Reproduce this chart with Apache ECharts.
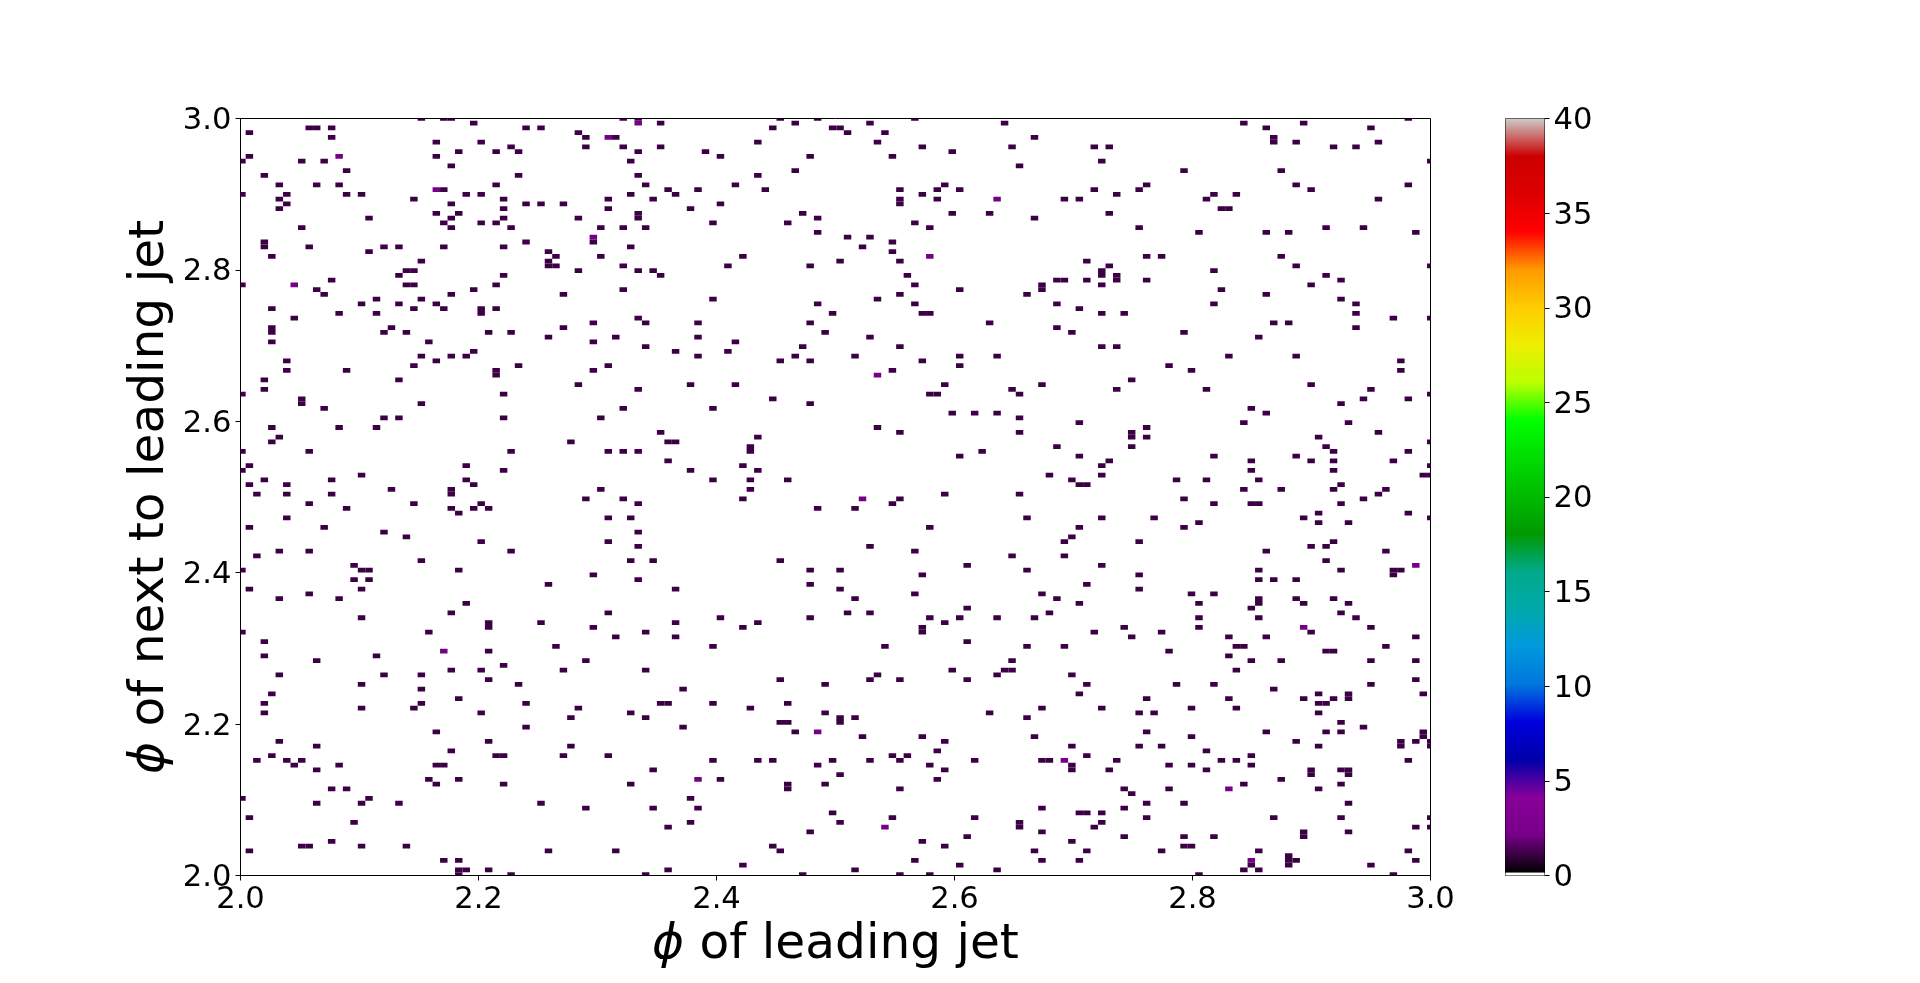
<!DOCTYPE html>
<html>
<head>
<meta charset="utf-8">
<title>phi of leading jet vs next to leading jet</title>
<script src="https://cdn.jsdelivr.net/npm/echarts@6/dist/echarts.min.js"></script>
<style>
  html, body { margin: 0; padding: 0; background: #fff; }
  #chart { width: 1920px; height: 983px; }
</style>
</head>
<body>
<div id="chart"></div>
<script>
// histogram bins are 2*pi/1000 wide, numbered from -pi
const binWidth = 2 * Math.PI / 1000
const firstLeadBin = 818
const topNextBin = 977

// one line per row of the histogram, top row first: filled columns, counted from firstLeadBin
const filledCols = [
  [24,27,28,51,53,72,77,90,156],
  [31,53,56,74,84,102,134,142],
  [9,10,12,38,40,71,79,80,137,151],
  [1,45,81,86],
  [12,46,49,50,106,138],
  [26,32,69,85,138,141,152],
  [36,46,51,56,91,103,114,116,146,149],
  [29,34,37,53,62,95],
  [1,13,26,64,76,87],
  [0,8,11,52,115,159],
  [28,104],
  [14,74,126,139],
  [3,37,53,69],
  [],
  [5,10,13,34,54,66,94,121,141,156],
  [26,27,57,61,70,88,93,96,114,120,143],
  [0,6,14,16,30,32,52,58,91,117,130,133],
  [5,23,35,49,55,88,93,101,110,112,129,152],
  [6,28,38,40,43,64,88],
  [5,35,49,60,131,132],
  [26,29,53,75,95,100,116],
  [17,28,35,45,53,77,106],
  [27,32,34,63,73,90],
  [8,28,36,48,51,54,92,120,145,150],
  [77,128,137,140,157],
  [47,81,84],
  [3,38,47,87],
  [3,9,19,21,27,35,52,83],
  [17,41,87],
  [4,42,48,67,92,121,123,139],
  [24,41,80,88,113],
  [41,42,51,65,76,116,141,159],
  [22,23,45,53,55,115,130],
  [21,35,56,89,115,117,145],
  [12,109,110,113,117,121,147],
  [0,7,22,23,34,90,107,115,143],
  [10,31,51,96,107,131],
  [11,28,43,88,105,137],
  [18,24,63,85,147],
  [16,21,26,77,90,109,130,149],
  [4,23,27,32,34,112],
  [13,18,32,79,91,92,115,118,149],
  [7,53,154,159],
  [47,54,61,76,100,138,140],
  [4,20,43,109,149],
  [4,19,22,33,36,78,111,126],
  [41,50,61,84,136],
  [4,25,47,66],
  [54,75,88,115,117],
  [31,58,65],
  [24,28,30,61,74,82,96,101,132,141],
  [6,26,72,76,91,155],
  [23,37,49,96,124],
  [6,14,34,47,87,127,155],
  [34,85],
  [3,21,119],
  [45,60,66,94,107,143],
  [3,53,103,117,129,151],
  [0,35,92,93,104,159],
  [8,71,150,156],
  [8,24,76,147],
  [11,51,63,135],
  [95,98,101,137],
  [19,21,35,48,104],
  [112,134,148],
  [4,13,18,85,121],
  [56,88,104,119,152],
  [5,69,119,121,144],
  [4,44,57,58,159],
  [68,109,119,145],
  [0,9,36,49,51,53,68,99,146,156],
  [96,112,130,141],
  [57,116,135,143,146,154],
  [1,30,67,115,159],
  [0,35,60,69,135,146],
  [16,108,115,158,159],
  [3,12,30,63,68,73,111,125,129,136],
  [1,6,31,112,113,147],
  [20,28,48,68,134,139,146,153],
  [2,6,12,28,94,104,152],
  [46,51,67,83,88,126,150],
  [9,23,32,53,87,130,135,136,147],
  [14,28,31,33,77,82],
  [29,144,156],
  [6,49,52,105,115,122,142,159],
  [128,144,148],
  [1,11,92,112,126],
  [19,53],
  [22,111],
  [32,49,110,120,146],
  [53,84,143,145],
  [5,9,36,90,137,153],
  [2,103,110],
  [24,52,55,72,145],
  [15,97,115,157],
  [0,16,17,29,76,80,105,136,147,154,155],
  [47,91,120,154],
  [15,17,53,136,138,141],
  [41,76,113],
  [1,16,58,80,120],
  [9,90,107,127,130],
  [5,13,82,109,136,141,146],
  [30,112,128,136,142,148],
  [97,135],
  [28,49,81,84,108,147],
  [16,64,76,92,96,101,106,128,136,149],
  [33,40,58,69,94],
  [33,47,67,91,118,128,142,151],
  [0,25,54,91,114,123,143],
  [50,58,119,132,137,157],
  [3,97],
  [42,63,86,105,110,133,134,153],
  [27,33,124,145,146],
  [3,18,132],
  [10,46,103,135,139,151,157],
  [35],
  [28,32,43,54,95,102,103,133],
  [5,19,24,85,101,111],
  [33,72,84,88,97,157],
  [16,37,78,113,125,130,151],
  [24,59,138],
  [4,112,144,148,158],
  [29,121,132,142,146,148],
  [3,24,38,56,57,63,73,144,145],
  [16,23,45,68,107,115,127,133],
  [3,32,52,78,100,120,122,144],
  [44,54,80,82,105],
  [72,73,80,147],
  [38,59,150],
  [26,74,77,121,137,145,147,158],
  [83,91,106,127,158],
  [5,33,94,141,155,157,159],
  [10,44,111,120,123,144,155,159],
  [28,93,129],
  [4,34,35,43,49,87,89,113,135],
  [2,6,8,63,69,71,79,84,88,98,107,108,110,117,131,133,156],
  [7,13,26,27,77,92,111,124,127,135],
  [10,55,94,111,116,129,143,147,148],
  [80,143,148],
  [25,29,61,64,93,139],
  [26,35,52,73,78,134,147],
  [12,14,73,88,118,124,132,144],
  [119],
  [0,17,60],
  [10,16,21,40,121,126,148],
  [46,55,61,107,118],
  [79,112,113,115],
  [1,87,98,121,138,147,159],
  [15,60,80,104,115],
  [57,86,104,114,157,159],
  [76,107,142,148],
  [97,118,126,130,142],
  [12,91,111],
  [8,9,16,22,71,94,126,127],
  [1,41,50,72,106,113,123,136,156],
  [140],
  [27,29,90,107,112,135,140,141,157],
  [67,96,135,140,151],
  [29,30,33,57,82,101,134,136],
  [29,36,54,75,88,92,128,154]
]

// the few lighter purple cells hold 2 entries, all the others 1
const doubleRows = [1,4,8,15,17,25,29,35,54,80,94,107,112,129,135,139,141,149,156]
const doubleCols = [53,49,13,26,101,47,92,7,85,83,157,142,27,77,110,61,132,86,135]

const axisTicks = [2.0, 2.2, 2.4, 2.6, 2.8, 3.0]
const colorbarTicks = [0, 5, 10, 15, 20, 25, 30, 35, 40]

// matplotlib nipy_spectral
const nipySpectral = ['#000000','#770088','#880099','#0000aa','#0000dd','#0077dd','#0099dd','#00aaaa','#00aa88',
  '#009900','#00bb00','#00dd00','#00ff00','#bbff00','#eeee00','#ffcc00','#ff9900','#ff0000','#dd0000','#cc0000','#cccccc']
const colorMax = 40
const underMax = 0.14

const cells = []
filledCols.forEach(function (cols, row) {
  cols.forEach(function (col) {
    let count = 1
    doubleRows.forEach(function (r, k) {
      if (r === row && doubleCols[k] === col) count = 2
    })
    const leadEdge = (firstLeadBin + col) * binWidth - Math.PI
    const nextEdge = (topNextBin - row) * binWidth - Math.PI
    cells.push([leadEdge, nextEdge, count])
  })
})

const tickFont = { color: '#000', fontSize: 30.6, fontFamily: 'DejaVu Sans' }
const nameRich = {
  i: { fontFamily: 'DejaVu Sans', fontStyle: 'italic', fontSize: 48.6, color: '#000' }
}

function renderCell(params, api) {
  const a = api.coord([api.value(0), api.value(1)])
  const b = api.coord([api.value(0) + binWidth, api.value(1) + binWidth])
  const shape = echarts.graphic.clipRectByRect(
    { x: a[0], y: b[1], width: b[0] - a[0], height: a[1] - b[1] },
    params.coordSys
  )
  if (!shape) return
  return {
    type: 'rect',
    shape: shape,
    style: { fill: echarts.color.lerp(api.value(2) / colorMax, nipySpectral) }
  }
}

function renderBar(params, api) {
  const a = api.coord([0, api.value(0)])
  const b = api.coord([1, api.value(1)])
  const isUnder = api.value(1) <= underMax
  return {
    type: 'rect',
    shape: { x: a[0], y: b[1], width: b[0] - a[0], height: a[1] - b[1] },
    style: {
      fill: isUnder ? '#fff' : new echarts.graphic.LinearGradient(0, 1, 0, 0,
        nipySpectral.map(function (c, k) { return { offset: k / (nipySpectral.length - 1), color: c } }))
    }
  }
}

const chart = echarts.init(document.getElementById('chart'), null, { renderer: 'canvas' })
chart.setOption({
  animation: false,
  backgroundColor: '#fff',
  grid: [
    { left: 240.5, top: 118.5, width: 1190, height: 757, show: true, backgroundColor: '#fff', borderColor: '#000', borderWidth: 1, outerBoundsMode: 'none' },
    { left: 1505.5, top: 118.5, width: 39, height: 757, show: true, backgroundColor: '#fff', borderColor: '#000', borderWidth: 1, outerBoundsMode: 'none' }
  ],
  xAxis: [
    {
      gridIndex: 0, type: 'value', min: axisTicks[0], max: axisTicks[5], interval: 0.2,
      name: '{i|ϕ} of leading jet', nameLocation: 'middle', nameGap: 45, nameMoveOverlap: false,
      nameTextStyle: { fontFamily: 'DejaVu Sans', fontSize: 48.6, color: '#000', rich: nameRich },
      axisLine: { show: true, onZero: false, lineStyle: { color: '#000', width: 1 } },
      axisTick: { show: true, length: 5, lineStyle: { color: '#000', width: 1 } },
      axisLabel: Object.assign({ margin: 9, formatter: function (v) { return v.toFixed(1) } }, tickFont),
      splitLine: { show: false }
    },
    { gridIndex: 1, type: 'value', min: 0, max: 1, show: false }
  ],
  yAxis: [
    {
      gridIndex: 0, type: 'value', min: axisTicks[0], max: axisTicks[5], interval: 0.2,
      name: '{i|ϕ} of next to leading jet', nameLocation: 'middle', nameGap: 66, nameRotate: 90, nameMoveOverlap: false,
      nameTextStyle: { fontFamily: 'DejaVu Sans', fontSize: 48.6, color: '#000', rich: nameRich },
      axisLine: { show: true, onZero: false, lineStyle: { color: '#000', width: 1 } },
      axisTick: { show: true, length: 5, lineStyle: { color: '#000', width: 1 } },
      // small line box hung under the tick, the digits sit 2-3px low like the reference
      axisLabel: Object.assign({ margin: 9, verticalAlign: 'top', lineHeight: 5, formatter: function (v) { return v.toFixed(1) } }, tickFont),
      splitLine: { show: false }
    },
    {
      gridIndex: 1, type: 'value', position: 'right', min: colorbarTicks[0], max: colorbarTicks[8], interval: 5,
      axisLine: { show: true, onZero: false, lineStyle: { color: '#000', width: 1 } },
      axisTick: { show: true, length: 5, lineStyle: { color: '#000', width: 1 } },
      axisLabel: Object.assign({ margin: 9, verticalAlign: 'top', lineHeight: 5 }, tickFont),
      splitLine: { show: false }
    }
  ],
  series: [
    {
      type: 'custom', xAxisIndex: 0, yAxisIndex: 0, coordinateSystem: 'cartesian2d',
      renderItem: renderCell, data: cells, encode: { x: 0, y: 1 }, clip: true, silent: true
    },
    {
      type: 'custom', xAxisIndex: 1, yAxisIndex: 1, coordinateSystem: 'cartesian2d',
      renderItem: renderBar, data: [[underMax, colorMax], [0, underMax]], encode: { y: [0, 1] }, silent: true
    }
  ]
})
</script>
</body>
</html>
